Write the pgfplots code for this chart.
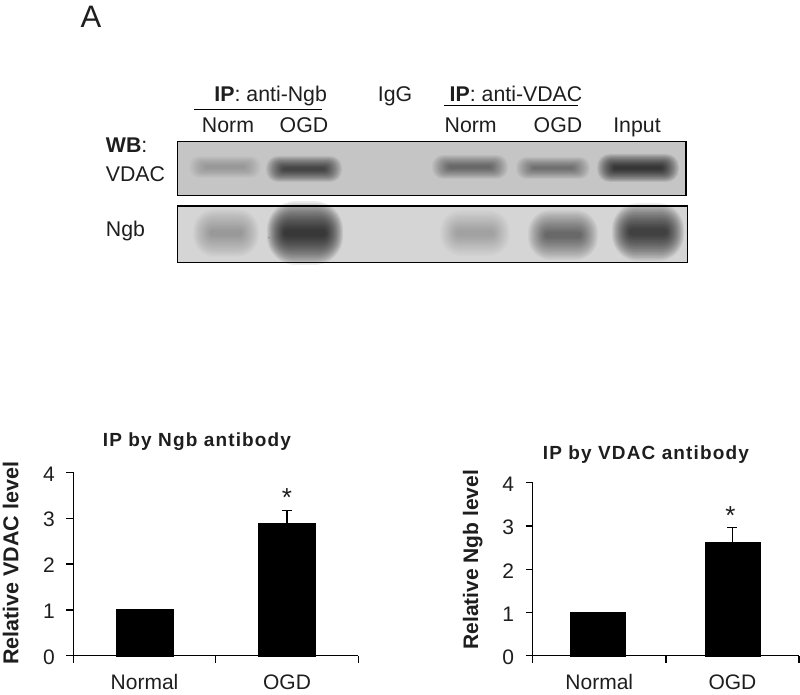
\documentclass[border=0pt]{standalone}
\usepackage{fontspec}
\setmainfont{Liberation Sans}
\usepackage{pgfplots}
\pgfplotsset{compat=1.18}
\definecolor{inkc}{RGB}{30,30,30}
\definecolor{blotA}{RGB}{197,197,197}
\definecolor{blotB}{RGB}{213,213,213}
\newcommand{\fs}[1]{\fontsize{#1}{#1}\selectfont}
% soft blot band, stacked translucent boxes: x y half-width half-height darkness
\newcommand{\band}[5]{%
  \pgfmathsetmacro\stepa{1-(1-#5)^(1/18)}%
  \foreach \k in {0,...,17}{%
    \pgfmathsetmacro\hw{#3-\k*1.0}%
    \pgfmathsetmacro\hh{#4-\k*0.052*#4}%
    \fill[black, opacity=\stepa, rounded corners=0.9*\hh pt]
      (#1-\hw,#2-\hh) rectangle (#1+\hw,#2+\hh);
  }%
}
\pgfplotsset{
  barax/.style={
    scale only axis,
    anchor=origin,
    axis x line=bottom,
    axis y line=left,
    axis line style={-,line width=1.3pt,black},
    xmin=0, xmax=2, ymin=0, ymax=4,
    xtick={0,1,2},
    xticklabels={},
    extra x ticks={0.5,1.5},
    extra x tick labels={Normal,OGD},
    extra x tick style={major tick length=0pt, tick label style={yshift=-8pt}},
    ytick={0,1,2,3,4},
    tick align=outside,
    major tick length=7pt,
    tick style={line width=1.3pt,black},
    x tick label style={font=\fs{21}, text=inkc, anchor=base, inner sep=0pt, yshift=-26pt},
    y tick label style={font=\fs{21}, text=inkc, xshift=-8pt, yshift=-1.5pt},
    /pgf/number format/assume math mode=true,
    label style={font=\bfseries\fs{21}, text=inkc},
    title style={font=\bfseries\fs{19}\addfontfeature{LetterSpace=6}, text=inkc, anchor=center, yshift=-8pt},
    clip=false,
  },
  blackbar/.style={ybar, bar shift=0pt, fill=black, draw=black},
  errs/.style={
    error bars/.cd, y dir=plus, y explicit,
    error bar style={line width=1.2pt,black},
    error mark options={rotate=90, mark size=5pt, line width=1.2pt, black},
  },
}
\begin{document}
\begin{tikzpicture}
\path[use as bounding box] (0,0) rectangle (800pt,694pt);

\begin{scope}[x=1pt,y=-1pt,yshift=694pt]
  % blot panels
  \fill[blotA] (177.7,141.7) rectangle (686,195.7);
  \band{225}{167}{36}{11}{0.2}
  \band{304}{169}{38}{13}{0.6}
  \band{470}{167}{38}{12}{0.42}
  \band{553}{168}{37}{11}{0.38}
  \band{638}{168}{41}{14}{0.7}
  \draw[line width=1.2pt,black] (177.7,141.7) rectangle (686,195.7);

  \fill[blotB] (177.7,206) rectangle (687.3,262.3);
  \band{226}{233}{33}{24}{0.26}
  \band{305}{233}{38}{32}{0.72}
  \band{475}{233}{35}{23}{0.2}
  \band{563}{235}{35}{25}{0.47}
  \band{648}{232}{36}{29}{0.66}
  \fill[black!45] (269,237.7) circle (0.9);
  \draw[line width=1.2pt,black] (177.7,206) rectangle (687.3,262.3);

  % header lines and labels
  \draw[line width=1pt,black] (194,109.3) -- (321.7,109.3);
  \draw[line width=1pt,black] (444,106) -- (577.7,106);
  \begin{scope}[every node/.style={inner sep=0pt, anchor=base, text=inkc, font=\fs{21.3}}]
    \node at (91,28) {\fs{31}A};
    \node at (270.7,101.7) {\textbf{IP}: anti-Ngb};
    \node at (395,101.7) {IgG};
    \node at (516,101.7) {\textbf{IP}: anti-VDAC};
    \node at (228,132.3) {Norm};
    \node at (304,132.3) {OGD};
    \node at (470.7,132.3) {Norm};
    \node at (558,132.3) {OGD};
    \node at (637,132.3) {Input};
    \node[anchor=base west] at (105.7,153) {\textbf{WB}:};
    \node[anchor=base west] at (105.7,181.7) {VDAC};
    \node[anchor=base west] at (105.7,236.7) {Ngb};
  \end{scope}
\end{scope}

\begin{axis}[barax,
  at={(73.3pt,38.3pt)}, width=285pt, height=183.4pt,
  title={IP by Ngb antibody},
  title style={at={(0.434,1.176)}},
  ylabel={Relative VDAC level},
  ylabel style={at={(axis description cs:-0.22,0.504)}, anchor=center, font=\bfseries\fs{21.5}},
]
\addplot[bar width=57pt, blackbar] coordinates {(0.5,1.02)};
\addplot[bar width=57pt, blackbar, errs] coordinates {(1.5,2.9) +- (0,0.26)};
\node[font=\fs{26}, text=inkc] at (axis cs:1.5,3.46) {*};
\end{axis}

\begin{axis}[barax,
  at={(532.7pt,38.3pt)}, width=266.3pt, height=173pt,
  title={IP by VDAC antibody},
  title style={at={(0.425,1.172)}},
  ylabel={Relative Ngb level},
  ylabel style={at={(axis description cs:-0.225,0.555)}, anchor=center},
]
\addplot[bar width=55pt, blackbar] coordinates {(0.49,1.0)};
\addplot[bar width=55pt, blackbar, errs] coordinates {(1.5,2.63) +- (0,0.33)};
\node[font=\fs{26}, text=inkc] at (axis cs:1.485,3.24) {*};
\end{axis}
\end{tikzpicture}
\end{document}
